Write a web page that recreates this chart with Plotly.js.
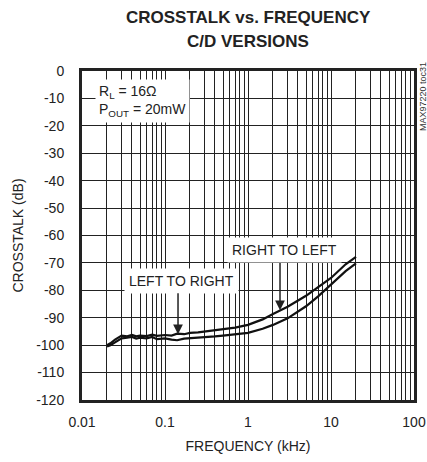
<!DOCTYPE html>
<html>
<head>
<meta charset="utf-8">
<script src="https://cdn.plot.ly/plotly-3.0.1.min.js"></script>
<style>html,body{margin:0;padding:0;background:#fff;}#chart{width:427px;height:462px;}</style>
</head>
<body>
<div id="chart"></div>
<script>
// Frequency (kHz)
const freq = [0.02, 0.022, 0.025, 0.028, 0.03, 0.035, 0.04, 0.045, 0.05, 0.06, 0.07, 0.08, 0.1, 0.12, 0.14, 0.17, 0.2, 0.25, 0.3, 0.4, 0.5, 0.7, 1, 1.5, 2, 3, 5, 7, 10, 15, 20];
// Crosstalk (dB)
const rightToLeft = [-100, -99.3, -98, -97, -96.5, -96.8, -96.3, -96.8, -96.5, -96.7, -96.2, -96.6, -96.3, -96.5, -95.8, -96, -95.5, -95.3, -95, -94.5, -94, -93.6, -92.6, -90.6, -88.6, -86, -82, -79, -75.5, -70.5, -67.8];
const leftToRight = [-100.5, -100, -99, -98.2, -97.5, -97.3, -97, -97.6, -97.3, -97.5, -97, -97.8, -97.5, -98, -98.2, -97.6, -97.5, -97.3, -97, -96.8, -96.5, -96.1, -95.5, -94, -92.6, -90.2, -85.8, -82.2, -78, -73, -70.2];

const xTicks = [0.01, 0.1, 1, 10, 100];
const xTickText = ['0.01', '0.1', '1', '10', '100'];
const yTicks = [0, -10, -20, -30, -40, -50, -60, -70, -80, -90, -100, -110, -120];
const yTickText = ['0', '-10', '-20', '-30', '-40', '-50', '-60', '-70', '-80', '-90', '-100', '-110', '-120'];

const FONT = 'Liberation Sans, Arial, sans-serif';

const data = [
  {x: freq, y: rightToLeft, type: 'scatter', mode: 'lines', line: {color: '#111', width: 2.2}, name: 'RIGHT TO LEFT'},
  {x: freq, y: leftToRight, type: 'scatter', mode: 'lines', line: {color: '#111', width: 2.2}, name: 'LEFT TO RIGHT'}
];

const layout = {
  width: 427, height: 462,
  margin: {l: 82, r: 13, t: 71, b: 62},
  paper_bgcolor: '#fff', plot_bgcolor: '#fff',
  showlegend: false,
  font: {family: FONT, size: 13, color: '#222'},
  xaxis: {
    type: 'log', range: [-2, 2],
    tickvals: xTicks, ticktext: xTickText,
    showgrid: true, gridcolor: '#222', gridwidth: 1,
    minor: {showgrid: true, gridcolor: '#222', gridwidth: 1, dtick: 'D1', ticks: ''},
    showline: true, linecolor: '#222', linewidth: 3, mirror: true,
    ticks: '', zeroline: false, ticklabelstandoff: 7,
    tickfont: {family: FONT, size: 14, color: '#222'},
    title: {text: 'FREQUENCY (kHz)', font: {family: FONT, size: 14, color: '#222'}, standoff: 13}
  },
  yaxis: {
    range: [-120, 0], tickvals: yTicks, ticktext: yTickText,
    showgrid: true, gridcolor: '#222', gridwidth: 1,
    showline: true, linecolor: '#222', linewidth: 3, mirror: true,
    ticks: '', zeroline: false, ticklabelstandoff: 12,
    tickfont: {family: FONT, size: 14, color: '#222'},
    title: {text: 'CROSSTALK (dB)', font: {family: FONT, size: 14, color: '#222'}, standoff: 10}
  },
  annotations: [
    {xref: 'paper', yref: 'paper', x: 0.5, y: 1.164, xanchor: 'center', yanchor: 'middle',
     text: '<b>CROSSTALK vs. FREQUENCY</b>', showarrow: false, font: {family: FONT, size: 17, color: '#222'}},
    {xref: 'paper', yref: 'paper', x: 0.5, y: 1.091, xanchor: 'center', yanchor: 'middle',
     text: '<b>C/D VERSIONS</b>', showarrow: false, font: {family: FONT, size: 17, color: '#222'}},
    {xref: 'paper', yref: 'paper', x: 0.04, y: 0.975, xanchor: 'left', yanchor: 'top', align: 'left',
     text: 'R<sub>L</sub> = 16Ω<br>P<sub>OUT</sub> = 20mW', showarrow: false, bgcolor: '#fff',
     font: {family: FONT, size: 14, color: '#222'}, borderpad: 3},
    {xref: 'x', yref: 'y', x: Math.log10(0.16), y: -76.6, text: 'LEFT TO RIGHT', showarrow: false, bgcolor: '#fff',
     font: {family: FONT, size: 14, color: '#222'}, borderpad: 4},
    {xref: 'x', yref: 'y', x: Math.log10(2.72), y: -65.3, text: 'RIGHT TO LEFT', showarrow: false, bgcolor: '#fff',
     font: {family: FONT, size: 14, color: '#222'}, borderpad: 4},
    {xref: 'x', yref: 'y', x: Math.log10(0.1435), y: -96.0, ax: Math.log10(0.1435), ay: -80.5, axref: 'x', ayref: 'y',
     text: '', showarrow: true, arrowhead: 2, arrowsize: 1.3, arrowwidth: 1.5, arrowcolor: '#222', standoff: 0},
    {xref: 'x', yref: 'y', x: Math.log10(2.43), y: -87.3, ax: Math.log10(2.43), ay: -69.5, axref: 'x', ayref: 'y',
     text: '', showarrow: true, arrowhead: 2, arrowsize: 1.3, arrowwidth: 1.5, arrowcolor: '#222', standoff: 0},
    {xref: 'paper', yref: 'paper', x: 1.027, y: 0.924, xanchor: 'center', yanchor: 'middle', textangle: -90,
     text: 'MAX97220 toc31', showarrow: false, font: {family: FONT, size: 9, color: '#333'}}
  ]
};

Plotly.newPlot('chart', data, layout, {displayModeBar: false, staticPlot: true});
</script>
</body>
</html>
